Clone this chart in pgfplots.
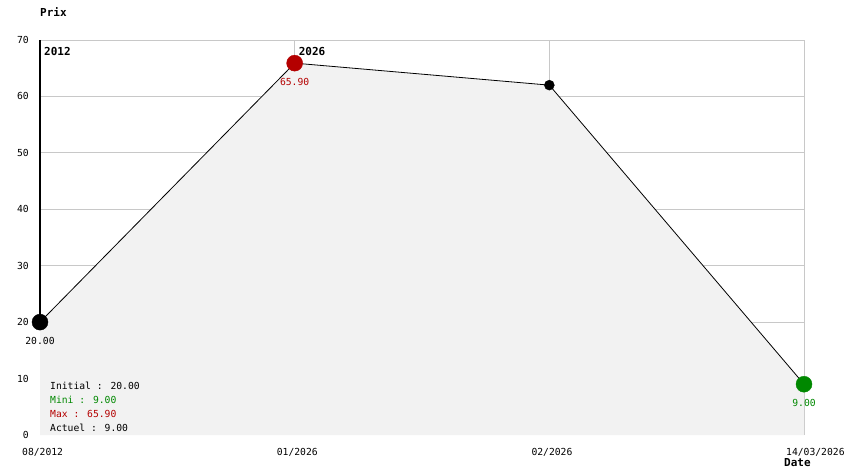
\documentclass[border=0pt]{standalone}
\usepackage{fontspec}
\setmainfont{DejaVu Sans Mono}
\usepackage{pgfplots}
\pgfplotsset{compat=1.18}
\definecolor{gridc}{HTML}{C8C8C8}
\definecolor{fillc}{HTML}{F2F2F2}
\definecolor{myred}{HTML}{B40000}
\definecolor{mygreen}{HTML}{008800}
\begin{document}
\fontsize{9.7bp}{11bp}\selectfont
\begin{tikzpicture}[font=\fontsize{9.7bp}{11bp}\selectfont]
\begin{axis}[
 scale only axis, width=764bp, height=395bp,
 xmin=0, xmax=3, ymin=0, ymax=70,
 xtick={1,2,3}, xticklabels={01/2026,02/2026,14/03/2026},
 extra x ticks={0}, extra x tick labels={08/2012}, extra x tick style={grid=none},
 ytick={10,20,...,70},
 extra y ticks={0}, extra y tick style={grid=none},
 grid=major, grid style={gridc, line width=0.8bp},
 major tick length=0pt,
 axis line style={draw=none},
 xticklabel style={anchor=north west, inner sep=0pt, xshift=-18bp, yshift=-13bp},
 yticklabel style={anchor=east, inner sep=0pt, xshift=-11bp},
 /pgf/number format/assume math mode=true,
 clip=false,
]
\addplot[fill=fillc, draw=none] coordinates {(0,20) (1,65.9) (2,62) (3,9)} \closedcycle;
\draw[black, line width=1.3bp] (axis cs:0,20) -- (axis cs:0,70);
\addplot[black, line width=0.8bp, mark=none] coordinates {(0,20) (1,65.9) (2,62) (3,9)};
\addplot[only marks, mark=*, mark size=8bp, black] coordinates {(0,20)};
\addplot[only marks, mark=*, mark size=8bp, myred, mark options={fill=myred, draw=myred}] coordinates {(1,65.9)};
\addplot[only marks, mark=*, mark size=5bp, black] coordinates {(2,62)};
\addplot[only marks, mark=*, mark size=8bp, mygreen, mark options={fill=mygreen, draw=mygreen}] coordinates {(3,9)};
\node[inner sep=0pt] at (axis cs:0,20) [yshift=-19bp] {20.00};
\node[inner sep=0pt, text=myred] at (axis cs:1,65.9) [yshift=-19bp] {65.90};
\node[inner sep=0pt, text=mygreen] at (axis cs:3,9) [yshift=-19bp] {9.00};
\node[anchor=west, inner sep=0pt, font=\fontsize{11bp}{12bp}\selectfont\bfseries] at (axis cs:0,70) [xshift=4bp, yshift=-11bp] {2012};
\node[anchor=west, inner sep=0pt, font=\fontsize{11bp}{12bp}\selectfont\bfseries] at (axis cs:1,70) [xshift=4bp, yshift=-11bp] {2026};
\coordinate (A) at (axis cs:0,0);
\end{axis}
\coordinate (O) at ([shift={(-40bp,-39bp)}]A);
\pgfresetboundingbox
\useasboundingbox (O) rectangle ([shift={(844bp,474bp)}]O);
\node[anchor=west, inner sep=0pt, font=\fontsize{11bp}{12bp}\selectfont\bfseries] at ([shift={(40bp,462bp)}]O) {Prix};
\node[anchor=west, inner sep=0pt, font=\fontsize{11bp}{12bp}\selectfont\bfseries] at ([shift={(784bp,11bp)}]O) {Date};
\node[anchor=west, inner sep=0pt] at ([shift={(50bp,88bp)}]O) {Initial : 20.00};
\node[anchor=west, inner sep=0pt, text=mygreen] at ([shift={(50bp,74bp)}]O) {Mini : 9.00};
\node[anchor=west, inner sep=0pt, text=myred] at ([shift={(50bp,60bp)}]O) {Max : 65.90};
\node[anchor=west, inner sep=0pt] at ([shift={(50bp,46bp)}]O) {Actuel : 9.00};
\end{tikzpicture}
\end{document}
